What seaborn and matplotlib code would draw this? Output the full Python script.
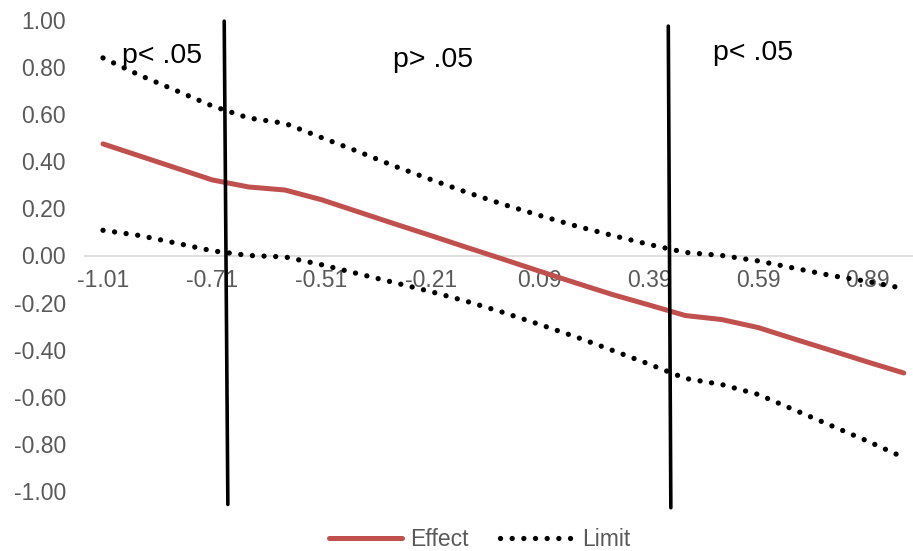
import numpy as np
import pandas as pd
import matplotlib
matplotlib.use("Agg")
import matplotlib.pyplot as plt
from matplotlib.lines import Line2D
import seaborn as sns

# ---------------- data ----------------
categories = ["-1.01", "-0.91", "-0.81", "-0.71", "-0.64", "-0.61", "-0.51", "-0.41",
              "-0.31", "-0.21", "-0.11", "-0.01", "0.09", "0.19", "0.29", "0.39",
              "0.49", "0.53", "0.59", "0.69", "0.79", "0.89", "0.99"]
effect = [0.474, 0.423, 0.372, 0.321, 0.291, 0.278, 0.237, 0.186, 0.135, 0.085, 0.034,
          -0.016, -0.067, -0.117, -0.166, -0.210, -0.255, -0.272, -0.306, -0.355,
          -0.403, -0.452, -0.499]
upper = [0.839, 0.766, 0.701, 0.635, 0.584, 0.561, 0.501, 0.442, 0.380, 0.323, 0.268,
         0.217, 0.170, 0.125, 0.085, 0.047, 0.013, 0.000, -0.023, -0.054, -0.085,
         -0.110, -0.140]
lower = [0.107, 0.085, 0.053, 0.020, 0.000, -0.006, -0.039, -0.077, -0.115, -0.153,
         -0.195, -0.242, -0.293, -0.346, -0.403, -0.461, -0.522, -0.548, -0.590,
         -0.656, -0.722, -0.788, -0.858]
yticks = [-1.0, -0.8, -0.6, -0.4, -0.2, 0.0, 0.2, 0.4, 0.6, 0.8, 1.0]
region_labels = ["p< .05", "p> .05", "p< .05"]
series_names = ["Effect", "Limit"]

# ---------------- styling ----------------
sns.set_style("white")
plt.rcParams["font.family"] = ["Liberation Sans", "DejaVu Sans"]

RED = "#C0504D"
GRAY = "#595959"
DOT_LW = 3.8
dotted = (0, (0.01, 2.2))

fig = plt.figure(figsize=(9.13, 5.51), dpi=100)
ax = fig.add_axes([84.8 / 913, 60 / 551, 837.2 / 913, 471 / 551])

pos = np.arange(len(categories))
df = pd.DataFrame({"pos": pos, "Effect": effect, "Upper": upper, "Lower": lower})

sns.lineplot(data=df, x="pos", y="Effect", ax=ax, color=RED, lw=3.6,
             solid_capstyle="round", legend=False, zorder=3)
for col in ["Upper", "Lower"]:
    sns.lineplot(data=df, x="pos", y=col, ax=ax, color="black", lw=DOT_LW,
                 linestyle=dotted, dash_capstyle="round", legend=False, zorder=3)

ax.set_xlim(-0.5, len(categories) - 0.5)
ax.set_ylim(-1.0, 1.0)

# category axis crossing at 0
for s in ["top", "right", "left"]:
    ax.spines[s].set_visible(False)
ax.spines["bottom"].set_position(("data", 0))
ax.spines["bottom"].set_color("#D9D9D9")
ax.spines["bottom"].set_linewidth(1.2)
ax.spines["bottom"].set_zorder(1)

ax.set_xticks(pos[::3])
ax.set_xticklabels(categories[::3])
ax.set_yticks(yticks)
ax.set_yticklabels([f"{v:.2f}" for v in yticks])
ax.tick_params(axis="x", length=0, pad=10, labelsize=16.5, labelcolor=GRAY)
ax.tick_params(axis="y", length=0, pad=13.5, labelsize=16.5, labelcolor=GRAY)
ax.set_xlabel("")
ax.set_ylabel("")
ax.grid(False)

# region dividers (drawn shapes)
ax.plot([3.33, 3.43], [0.995, -1.057], color="black", lw=2.6, clip_on=False, zorder=5)
ax.plot([15.53, 15.60], [0.974, -1.071], color="black", lw=2.6, clip_on=False, zorder=5)

# region labels
fig.text(121.7 / 913, 1 - 63 / 551, region_labels[0], fontsize=20.5, color="black", va="baseline", ha="left")
fig.text(393 / 913, 1 - 67 / 551, region_labels[1], fontsize=20.5, color="black", va="baseline", ha="left")
fig.text(713 / 913, 1 - 60 / 551, region_labels[2], fontsize=20.5, color="black", va="baseline", ha="left")

# legend
handles = [Line2D([], [], color=RED, lw=3.6, solid_capstyle="round"),
           Line2D([], [], color="black", lw=DOT_LW, linestyle=dotted, dash_capstyle="round")]
leg = fig.legend(handles, series_names, loc="center", bbox_to_anchor=(0.525, 1 - 540 / 551),
                 ncol=2, frameon=False, fontsize=16.5, handlelength=3.2, handletextpad=0.35,
                 columnspacing=1.4, labelcolor=GRAY)

fig.savefig("out.png", dpi=100)
